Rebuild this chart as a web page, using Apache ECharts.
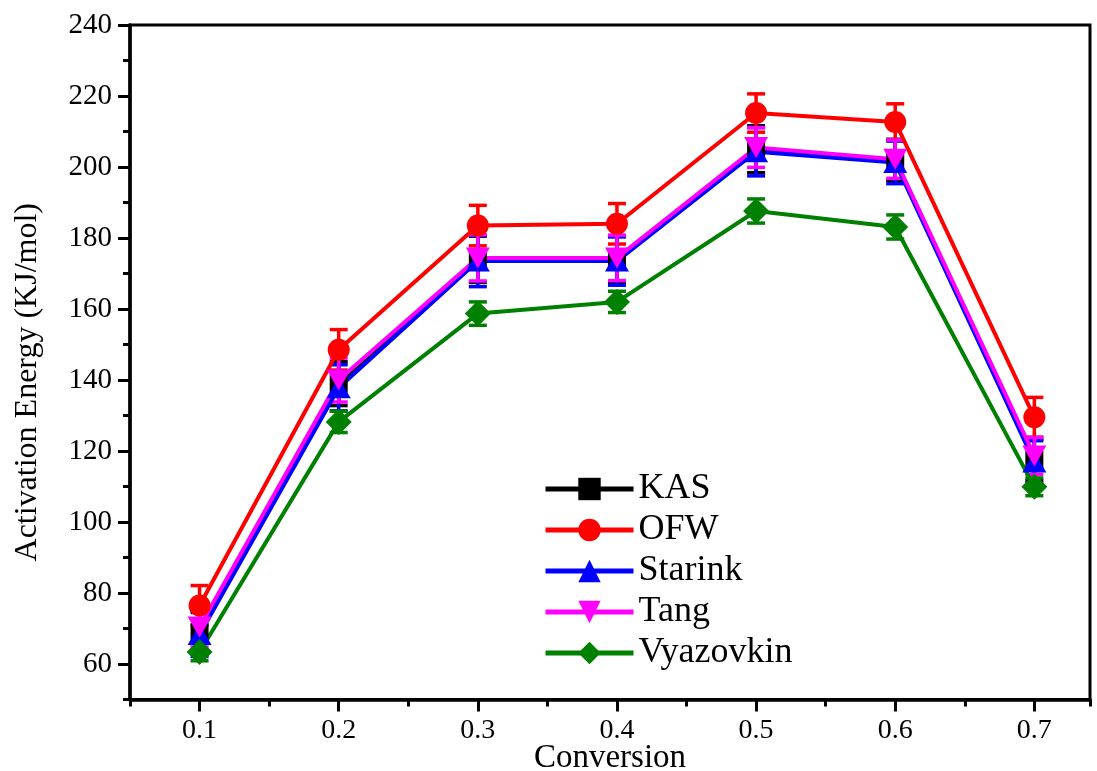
<!DOCTYPE html>
<html>
<head>
<meta charset="utf-8">
<script src="https://cdn.jsdelivr.net/npm/echarts@6/dist/echarts.min.js"></script>
<style>
  html, body { margin: 0; padding: 0; background: #fff; }
  #chart { width: 1097px; height: 771px; }
</style>
</head>
<body>
<div id="chart"></div>
<script>
// Activation energy vs. conversion for five isoconversional methods
const conversion = [0.1, 0.2, 0.3, 0.4, 0.5, 0.6, 0.7];

const kas       = [69.0, 139.0, 174.0, 174.0, 205.0, 202.0, 117.5];
const ofw       = [76.5, 148.5, 183.5, 184.0, 215.2, 212.7, 129.5];
const starink   = [68.3, 137.8, 173.5, 173.5, 204.3, 201.3, 116.9];
const tang      = [70.4, 140.0, 174.4, 174.4, 205.5, 202.2, 118.6];
const vyazovkin = [63.4, 128.2, 158.7, 162.0, 187.6, 183.1, 109.9];

// standard deviations (error bars)
const kasErr       = [6.0, 6.2, 6.5, 6.5, 6.6, 5.8, 5.8];
const ofwErr       = [5.6, 5.7, 5.7, 5.7, 5.4, 5.1, 5.6];
const starinkErr   = [6.2, 6.5, 7.2, 6.8, 6.8, 6.0, 6.0];
const tangErr      = [5.6, 6.2, 6.5, 6.4, 5.6, 5.4, 5.2];
const vyazovkinErr = [2.5, 3.0, 3.3, 3.0, 3.4, 3.4, 2.5];

// axis tick labels
const xTickLabels = [0.1, 0.2, 0.3, 0.4, 0.5, 0.6, 0.7];
const yTickLabels = [60, 80, 100, 120, 140, 160, 180, 200, 220, 240];

const methods = [
  { name: 'KAS',       values: kas,       err: kasErr,       color: '#000000', symbol: 'rect',     size: 18 },
  { name: 'OFW',       values: ofw,       err: ofwErr,       color: '#ff0000', symbol: 'circle',   size: 22 },
  { name: 'Starink',   values: starink,   err: starinkErr,   color: '#0000ff', symbol: 'triangle', size: [24, 21] },
  { name: 'Tang',      values: tang,      err: tangErr,      color: '#ff00ff', symbol: 'path://M0,0 L24,0 L12,21 Z', size: [24, 21] },
  { name: 'Vyazovkin', values: vyazovkin, err: vyazovkinErr, color: '#008000', symbol: 'diamond',  size: [26, 26] }
];

const FONT = '"Liberation Serif", "Times New Roman", serif';
const X_MIN = 0.05, X_MAX = 0.74;
const Y_MIN = 50, Y_MAX = 240;

function errorBarRenderer(color) {
  return function (params, api) {
    const x = api.value(0);
    const top = api.coord([x, api.value(2)]);
    const bot = api.coord([x, api.value(1)]);
    const half = 9;
    const style = { stroke: color, lineWidth: 3.5 };
    return {
      type: 'group',
      children: [
        { type: 'line', shape: { x1: top[0], y1: top[1], x2: bot[0], y2: bot[1] }, style },
        { type: 'line', shape: { x1: top[0] - half, y1: top[1], x2: top[0] + half, y2: top[1] }, style },
        { type: 'line', shape: { x1: bot[0] - half, y1: bot[1], x2: bot[0] + half, y2: bot[1] }, style }
      ]
    };
  };
}

const series = [];
methods.forEach(function (m) {
  series.push({
    type: 'custom',
    xAxisIndex: 0,
    yAxisIndex: 0,
    renderItem: errorBarRenderer(m.color),
    data: conversion.map(function (x, i) { return [x, m.values[i] - m.err[i], m.values[i] + m.err[i]]; }),
    silent: true,
    z: 2
  });
  series.push({
    name: m.name,
    type: 'line',
    xAxisIndex: 0,
    yAxisIndex: 0,
    data: conversion.map(function (x, i) { return [x, m.values[i]]; }),
    symbol: m.symbol,
    symbolSize: m.size,
    showAllSymbol: true,
    color: m.color,
    lineStyle: { color: m.color, width: 4 },
    itemStyle: { color: m.color },
    animation: false,
    z: 2
  });
});

const chart = echarts.init(document.getElementById('chart'), null, { renderer: 'canvas' });
chart.setOption({
  backgroundColor: '#ffffff',
  animation: false,
  grid: {
    left: 130, right: 7, top: 25, bottom: 71.5,
    outerBoundsMode: 'none',
    containLabel: false,
    show: true, borderColor: '#000', borderWidth: 3
  },
  legend: {
    data: methods.map(function (m) { return m.name; }),
    orient: 'vertical',
    left: 538,
    top: 466,
    itemWidth: 88,
    itemHeight: 28,
    itemGap: 5,
    selectedMode: false,
    lineStyle: { width: 5 },
    textStyle: { fontFamily: FONT, fontSize: 36, color: '#000' }
  },
  xAxis: [
    {
      type: 'value', min: X_MIN, max: X_MAX, interval: 0.05, position: 'bottom',
      name: 'Conversion', nameLocation: 'middle', nameGap: 42,
      nameTextStyle: { fontFamily: FONT, fontSize: 33, color: '#000' },
      axisLine: { show: true, lineStyle: { color: '#000', width: 3.5 } },
      axisTick: { show: true, length: 7, lineStyle: { color: '#000', width: 3 } },
      axisLabel: { show: false },
      splitLine: { show: false }
    },
    {
      type: 'value', min: X_MIN, max: X_MAX, position: 'bottom',
      axisLine: { show: false },
      axisTick: { show: true, length: 12, customValues: xTickLabels, lineStyle: { color: '#000', width: 3 } },
      axisLabel: {
        show: true, customValues: xTickLabels, margin: 17,
        fontFamily: FONT, fontSize: 28, color: '#000',
        formatter: function (v) { return v.toFixed(1); }
      },
      splitLine: { show: false }
    }
  ],
  yAxis: [
    {
      type: 'value', min: Y_MIN, max: Y_MAX, interval: 10, position: 'left',
      name: 'Activation Energy (KJ/mol)', nameLocation: 'middle', nameGap: 86, nameRotate: 90,
      nameTextStyle: { fontFamily: FONT, fontSize: 32, color: '#000', padding: [0, 40, 0, 0] },
      axisLine: { show: true, lineStyle: { color: '#000', width: 3.5 } },
      axisTick: { show: true, length: 7, lineStyle: { color: '#000', width: 3 } },
      axisLabel: { show: false },
      splitLine: { show: false }
    },
    {
      type: 'value', min: Y_MIN, max: Y_MAX, position: 'left',
      axisLine: { show: false },
      axisTick: { show: true, length: 12, customValues: yTickLabels, lineStyle: { color: '#000', width: 3 } },
      axisLabel: {
        show: true, customValues: yTickLabels, margin: 18,
        fontFamily: FONT, fontSize: 29, color: '#000'
      },
      splitLine: { show: false }
    }
  ],
  series: series
});
</script>
</body>
</html>
